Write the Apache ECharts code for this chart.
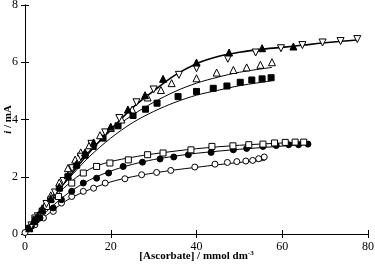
<!DOCTYPE html>
<html>
<head>
<meta charset="utf-8">
<script src="https://cdn.jsdelivr.net/npm/echarts@6/dist/echarts.min.js"></script>
<style>html,body{margin:0;padding:0;background:#fff}#c{width:375px;height:268px}</style>
</head>
<body>
<div id="c"></div>
<script>
// ---- data ----
var xTicks = [0, 20, 40, 60, 80];
var yTicks = [0, 2, 4, 6, 8];

var triUpFilled = [[1,0.2],[2,0.45],[3,0.65],[4,0.85],[6,1.25],[8,1.65],[10,2.05],[12,2.45],[14,2.85],[16,3.2],[20,3.75],[24,4.35],[28,4.85],[32.2,5.42],[40,5.99],[47.6,6.34],[55.3,6.49],[62.6,6.55]];
var triDownOpen = [[1.5,0.3],[3,0.62],[5,1.05],[7,1.45],[9,1.85],[11,2.3],[13,2.7],[15.5,3.15],[18.7,3.55],[22,4.05],[26,4.6],[30,5.05],[35.9,5.56],[40,5.79],[47.3,6.12],[53.8,6.34],[59.7,6.49],[64.7,6.6],[69.4,6.69],[73.6,6.74],[77.5,6.81]];
var triUpOpen = [[2,0.45],[4,0.9],[6,1.35],[8,1.8],[10,2.3],[11.7,2.6],[13,2.85],[15,3.1],[17.5,3.45],[20,3.7],[22.5,4.0],[25,4.35],[28.6,4.77],[31.7,5.03],[34.2,5.27],[40,5.44],[44.7,5.64],[48.6,5.73],[51.7,5.82],[54.9,5.91],[57.6,6.0]];
var sqFilled = [[1,0.2],[2.5,0.5],[4,0.8],[6,1.2],[8,1.6],[10,2.0],[12,2.4],[14,2.75],[15.9,3.06],[18.2,3.35],[21.7,3.78],[25.2,4.14],[28.1,4.36],[30.8,4.57],[35.7,4.8],[40,4.98],[43.9,5.09],[47.1,5.17],[50.2,5.3],[52.9,5.38],[55.3,5.42],[57.4,5.46]];
var sqOpen = [[2.3,0.56],[5,0.96],[7.8,1.31],[10.9,1.78],[13.6,2.13],[16.7,2.36],[19.8,2.48],[24.1,2.59],[28.6,2.77],[32.2,2.83],[38.7,2.94],[43.6,3.06],[48.5,3.08],[52.2,3.12],[55.5,3.14],[58.2,3.18],[60.7,3.2],[63,3.21],[65,3.21]];
var circFilled = [[1.5,0.27],[3.5,0.56],[6.6,0.91],[8.5,1.2],[10.9,1.49],[13.6,1.78],[16.7,1.95],[19.5,2.13],[22.9,2.36],[27.4,2.51],[31.5,2.62],[34.7,2.69],[38.1,2.77],[43.4,2.85],[48.6,2.94],[51.7,2.99],[55.5,3.06],[58.6,3.09],[61.5,3.12],[63.8,3.12],[66,3.14]];
var circOpen = [[0,0.05],[2.3,0.32],[4.3,0.56],[6.6,0.79],[8.5,1.08],[10.9,1.31],[13.6,1.49],[16,1.6],[18.7,1.78],[23.3,1.93],[27.2,2.07],[30.7,2.15],[34,2.22],[39.6,2.34],[44.3,2.44],[47.2,2.5],[49.4,2.53],[51.5,2.55],[53.1,2.57],[54.5,2.63],[55.8,2.69]];

var fitTop = [[0,0],[5,1.0],[10,1.95],[15,2.85],[20,3.65],[25,4.4],[30,5.0],[35,5.55],[40,5.95],[45,6.2],[50,6.35],[55,6.45],[60,6.52],[65,6.6],[70,6.68],[77.5,6.78]];
var fitTriOpen = [[0,0],[5,1.05],[10,2.05],[15,2.9],[20,3.6],[25,4.15],[30,4.6],[35,4.98],[40,5.27],[45,5.48],[50,5.65],[57.6,5.82]];
var fitSqFilled = [[0,0],[5,1.0],[10,1.9],[15,2.7],[20,3.35],[25,3.88],[30,4.28],[35,4.6],[40,4.85],[45,5.02],[50,5.18],[57.5,5.35]];
var fitSqOpen = [[0,0],[4,0.78],[8,1.45],[12,1.98],[16,2.33],[20,2.53],[25,2.68],[30,2.8],[40,2.98],[50,3.1],[60,3.18],[65.5,3.22]];
var fitCircFilled = [[0,0],[5,0.78],[10,1.42],[15,1.88],[20,2.2],[25,2.43],[30,2.6],[35,2.72],[40,2.82],[50,2.96],[60,3.07],[66,3.13]];
var fitCircOpen = [[0,0],[5,0.65],[10,1.2],[15,1.55],[20,1.82],[25,2.0],[30,2.13],[35,2.24],[40,2.33],[45,2.42],[50,2.5],[56,2.57]];

// ---- chart ----
var FONT = '"Liberation Serif","DejaVu Serif",serif';
function fitLine(d, w) {
  return {type:'line', data:d, smooth:0.3, showSymbol:false, symbol:'none', silent:true,
    lineStyle:{color:'#000', width:w||1}, z:2};
}
function scat(d, sym, filled, size, rot) {
  return {type:'scatter', data:d, symbol:sym, symbolSize:size, symbolRotate:rot||0, z:3,
    itemStyle:{color: filled ? '#000' : '#fff', borderColor:'#000', borderWidth:1, opacity:1}};
}
var axisCommon = {
  axisLine:{show:true, lineStyle:{color:'#000', width:1}},
  axisTick:{show:true, inside:true, length:4, lineStyle:{color:'#000'}},
  splitLine:{show:false}
};
var chart = echarts.init(document.getElementById('c'), null, {renderer:'canvas'});
chart.setOption({
  animation:false,
  backgroundColor:'#fff',
  grid:{left:25, right:7, top:5, bottom:34, containLabel:false, outerBoundsMode:'none'},
  xAxis:[
    Object.assign({type:'value', min:xTicks[0], max:xTicks[xTicks.length-1], interval:20, position:'bottom',
      axisLabel:{color:'#000', fontFamily:FONT, fontSize:12, margin:7},
      name:'{b|[Ascorbate] / mmol dm}{s|-3}', nameLocation:'middle', nameGap:16, nameMoveOverlap:false,
      nameTextStyle:{rich:{b:{fontFamily:FONT, fontWeight:'bold', fontSize:11, color:'#000'},
        s:{fontFamily:FONT, fontWeight:'bold', fontSize:7, color:'#000', verticalAlign:'top', padding:[0,0,6,0]}}}
    }, axisCommon),
    Object.assign({type:'value', min:0, max:80, interval:20, position:'top', axisLabel:{show:false}}, axisCommon)
  ],
  yAxis:[
    Object.assign({type:'value', min:yTicks[0], max:yTicks[yTicks.length-1], interval:2, position:'left',
      axisLabel:{color:'#000', fontFamily:FONT, fontSize:12, margin:7},
      name:'{i|i}{b| / mA}', nameLocation:'middle', nameGap:11, nameMoveOverlap:false,
      nameTextStyle:{rich:{i:{fontFamily:FONT, fontWeight:'bold', fontStyle:'italic', fontSize:11, color:'#000'},
        b:{fontFamily:FONT, fontWeight:'bold', fontSize:11, color:'#000'}}}
    }, axisCommon),
    Object.assign({type:'value', min:0, max:8, interval:2, position:'right', axisLabel:{show:false}}, axisCommon)
  ],
  series:[
    fitLine(fitTop, 1.6),
    fitLine(fitTriOpen),
    fitLine(fitSqFilled),
    fitLine(fitSqOpen),
    fitLine(fitCircFilled),
    fitLine(fitCircOpen),
    scat(circOpen, 'circle', false, 6),
    scat(circFilled, 'circle', true, 6),
    scat(sqOpen, 'rect', false, 6),
    scat(sqFilled, 'rect', true, 6),
    scat(triUpOpen, 'triangle', false, 7),
    scat(triDownOpen, 'triangle', false, 7, 180),
    scat(triUpFilled, 'triangle', true, 7)
  ]
});
</script>
</body>
</html>
